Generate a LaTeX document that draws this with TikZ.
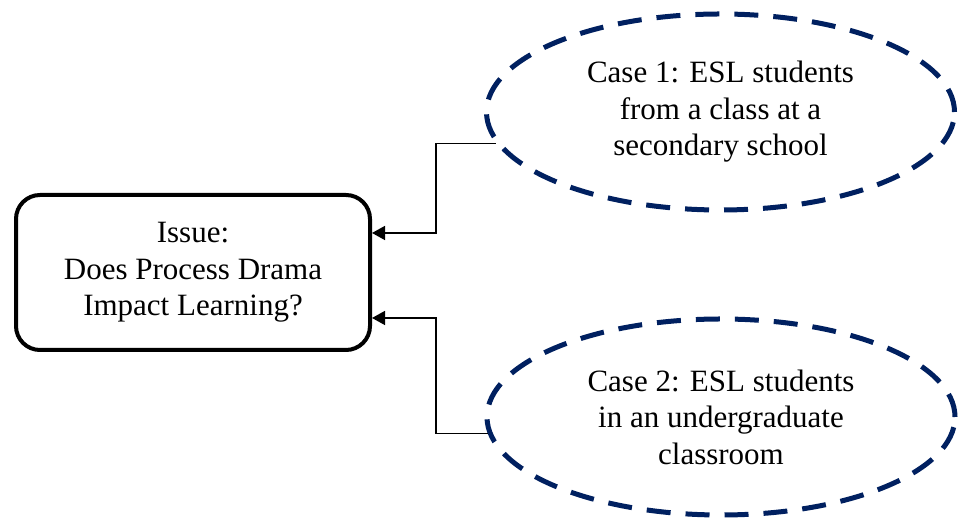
\documentclass[tikz,border=0pt]{standalone}
\usepackage{fontspec}
\setmainfont{Liberation Serif}
\usetikzlibrary{shapes.geometric,arrows.meta}
\definecolor{casenavy}{RGB}{0,32,96}
\begin{document}
\begin{tikzpicture}[x=1pt,y=1pt,
  txt/.style={font=\fontsize{31}{36.5}\selectfont, align=center},
  issuebox/.style={txt, draw=black, line width=4pt, rounded corners=24pt,
    minimum width=354pt, minimum height=155pt, inner sep=0pt},
  casebox/.style={txt, ellipse, draw=casenavy, line width=5pt,
    dash pattern=on 24pt off 15pt, minimum width=468pt, minimum height=196pt, inner sep=0pt},
  conn/.style={draw=black, line width=1.5pt, -{Triangle[length=13pt,width=14pt]}}
]
\useasboundingbox (0,0) rectangle (958,518);
\node[issuebox] (box) at (193,245.5) {Issue:\\Does Process Drama\\Impact Learning?};
\node[casebox] (e1) at (720.5,406) {Case 1: ESL students\\from a class at a\\secondary school};
\node[casebox] (e2) at (721,101) {Case 2: ESL students\\in an undergraduate\\classroom};
\coordinate (j1) at (436,285);
\coordinate (j2) at (436,200);
\draw[conn] (e1.188.4) -| (j1) -- (j1 -| box.east);
\draw[conn] (e2.184.7) -| (j2) -- (j2 -| box.east);
\end{tikzpicture}
\end{document}
